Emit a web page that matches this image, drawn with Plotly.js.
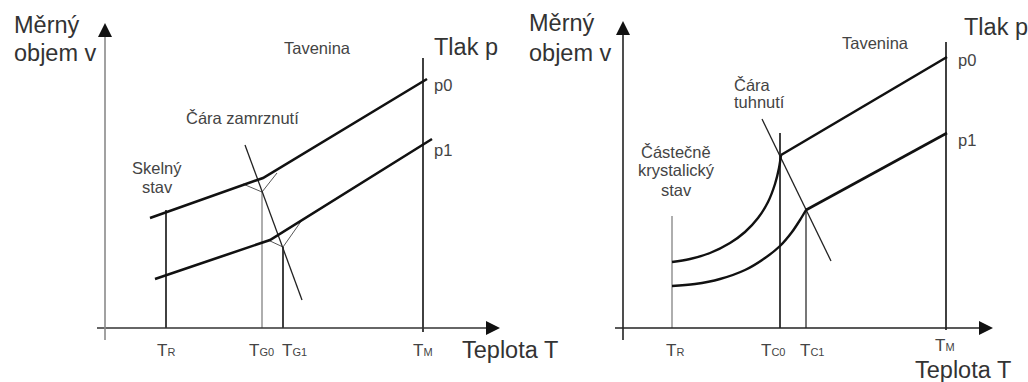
<!DOCTYPE html>
<html>
<head>
<meta charset="utf-8">
<script src="https://cdn.plot.ly/plotly-3.0.1.min.js"></script>
<style>
  html, body { margin: 0; padding: 0; background: #fff; }
  #chart { width: 1028px; height: 382px; }
</style>
</head>
<body>
<div id="chart"></div>
<script>
// Specific volume v against temperature T, two schematic diagrams.
// Both axes use arbitrary units with the origin where the axes cross.

// ---- Amorphous polymer (left) ----
const amTickX = [61, 157, 178, 318];              // T_R, T_G0, T_G1, T_M
const amTickSub = ['R', 'G0', 'G1', 'M'];
const amTickLabelX = [61, 156, 189, 318];
const amDropTop = [118, 137, 81, 270];            // upper end of each temperature marker
const amDropColor = ['#111', '#9a9a9a', '#111', '#111'];
const amP0X = [45, 158, 322];                     // pressure p0: glass branch, melt branch
const amP0Y = [110, 150, 249];
const amP1X = [50, 165, 327];                     // pressure p1
const amP1Y = [49, 88, 189];
const amKnee0X = [138, 157, 172];                 // transition zone at p0
const amKnee0Y = [144, 136, 155];
const amKnee1X = [163, 178, 197];                 // transition zone at p1
const amKnee1Y = [88, 81, 108];
const amFreezeX = [140, 197];                     // freezing line
const amFreezeY = [183, 28];
const amXAxis = [-8, 395];
const amYAxis = [-12, 305];

// ---- Semicrystalline polymer (right) ----
const crTickX = [49, 157, 183, 323];              // T_R, T_C0, T_C1, T_M
const crTickSub = ['R', 'C0', 'C1', 'M'];
const crTickLabelX = [52, 150, 189, 322];
const crTickLabelY = [-22, -22, -22, -17];
const crDropTop = [112, 195, 120, 286];
const crDropColor = ['#9a9a9a', '#111', '#555', '#111'];
const crP0CurveX = [49, 67, 87, 107, 122, 135, 145, 152, 156, 158];
const crP0CurveY = [66, 69, 75, 85, 96, 110, 126, 144, 160, 173];
const crP0MeltX = [158, 324];
const crP0MeltY = [173, 271];
const crP1CurveX = [49, 72, 97, 122, 142, 157, 169, 177, 183];
const crP1CurveY = [42, 44, 49, 58, 70, 82, 96, 108, 118];
const crP1MeltX = [183, 324];
const crP1MeltY = [118, 195];
const crSolidX = [139, 208];                      // solidification line
const crSolidY = [209, 67];
const crXAxis = [-8, 370];
const crYAxis = [-12, 307];

const FONT = 'Liberation Sans, Arial, Helvetica, sans-serif';
const traces = [];
const annotations = [];

function line(xs, ys, ax, color, width, shape) {
  traces.push({
    type: 'scatter', mode: 'lines', x: xs, y: ys,
    xaxis: ax.x, yaxis: ax.y, hoverinfo: 'skip', showlegend: false,
    line: { color: color, width: width, shape: shape || 'linear', smoothing: 1 }
  });
}

function label(txt, x, y, ax, size, color, xanchor) {
  annotations.push({
    text: txt, x: x, y: y, xref: ax.x, yref: ax.y,
    showarrow: false, xanchor: xanchor || 'center', yanchor: 'middle', align: 'left',
    font: { family: FONT, size: size, color: color }
  });
}

// filled arrow tip at the end of an axis (arrow symbols have their point at the marker position)
function arrowTip(x, y, symbol, ax) {
  traces.push({
    type: 'scatter', mode: 'markers', x: [x], y: [y],
    xaxis: ax.x, yaxis: ax.y, hoverinfo: 'skip', showlegend: false, cliponaxis: false,
    marker: { symbol: symbol, size: 14, color: '#111', line: { width: 0 } }
  });
}

function axesCross(xAxis, yAxis, ax, xColor, yColor) {
  line([xAxis[0], xAxis[1] - 8], [0, 0], ax, xColor, 1.6);
  line([0, 0], [yAxis[0], yAxis[1] - 8], ax, yColor, 1.6);
  arrowTip(xAxis[1], 0, 'arrow-right', ax);
  arrowTip(0, yAxis[1], 'arrow-up', ax);
}

function tickMarks(xs, tops, colors, ax) {
  xs.forEach((x, i) => line([x, x], [tops[i], 0], ax, colors[i], 1.6));
}

function tickLabels(xs, ys, subs, ax) {
  xs.forEach((x, i) => label('T<span style="font-size:11px">' + subs[i] + '</span>',
    x, ys[i], ax, 17, '#444'));
}

// ----- left diagram -----
const L = { x: 'x', y: 'y' };
tickMarks(amTickX, amDropTop, amDropColor, L);
line([amTickX[3], amTickX[3]], [0, -4], L, '#111', 1.6);
axesCross(amXAxis, amYAxis, L, '#333', '#8a8a8a');
line(amKnee0X, amKnee0Y, L, '#444', 0.9);
line(amKnee1X, amKnee1Y, L, '#444', 0.9);
line(amFreezeX, amFreezeY, L, '#222', 1.3);
line(amP0X, amP0Y, L, '#111', 2.6);
line(amP1X, amP1Y, L, '#111', 2.6);
tickLabels(amTickLabelX, amTickX.map(() => -22), amTickSub, L);
label('Měrný', -93, 303, L, 23.5, '#333', 'left');
label('objem v', -93, 275, L, 23.5, '#333', 'left');
label('Tavenina', 212, 280, L, 16.5, '#444');
label('Tlak p', 327, 281, L, 23.5, '#333', 'left');
label('p0', 327, 243, L, 16.5, '#444', 'left');
label('p1', 327, 178, L, 16.5, '#444', 'left');
label('Čára zamrznutí', 137, 210, L, 16.5, '#444');
label('Skelný', 52, 160, L, 16.5, '#444');
label('stav', 52, 141, L, 16.5, '#444');
label('Teplota T', 355, -22, L, 23.5, '#333', 'left');

// ----- right diagram -----
const R = { x: 'x2', y: 'y2' };
tickMarks(crTickX, crDropTop, crDropColor, R);
line([crTickX[3], crTickX[3]], [0, -2], R, '#111', 1.6);
axesCross(crXAxis, crYAxis, R, '#222', '#222');
line(crSolidX, crSolidY, R, '#222', 1.3);
line(crP0CurveX, crP0CurveY, R, '#111', 2.4, 'spline');
line(crP0MeltX, crP0MeltY, R, '#111', 2.6);
line(crP1CurveX, crP1CurveY, R, '#111', 2.4, 'spline');
line(crP1MeltX, crP1MeltY, R, '#111', 2.6);
tickLabels(crTickLabelX, crTickLabelY, crTickSub, R);
label('Měrný', -96, 305, R, 23.5, '#333', 'left');
label('objem v', -96, 275, R, 23.5, '#333', 'left');
label('Tavenina', 252, 285, R, 16.5, '#444');
label('Tlak p', 339, 301, R, 23.5, '#333', 'left');
label('p0', 333, 268, R, 16.5, '#444', 'left');
label('p1', 333, 188, R, 16.5, '#444', 'left');
label('Čára', 109, 243, R, 16.5, '#444', 'left');
label('tuhnutí', 109, 226, R, 16.5, '#444', 'left');
label('Částečně', 53, 176, R, 16.5, '#444');
label('krystalický', 53, 158, R, 16.5, '#444');
label('stav', 53, 138, R, 16.5, '#444');
label('Teplota T', 290, -42, R, 23.5, '#333', 'left');

const hidden = { visible: false, fixedrange: true };
const layout = {
  width: 1028, height: 382,
  margin: { l: 0, r: 0, t: 0, b: 0 },
  paper_bgcolor: '#fff', plot_bgcolor: '#fff',
  showlegend: false,
  xaxis: Object.assign({ domain: [0, 0.5], range: [-105, 409], anchor: 'y' }, hidden),
  yaxis: Object.assign({ domain: [0, 1], range: [-54, 328], anchor: 'x' }, hidden),
  xaxis2: Object.assign({ domain: [0.5, 1], range: [-109, 405], anchor: 'y2' }, hidden),
  yaxis2: Object.assign({ domain: [0, 1], range: [-54, 328], anchor: 'x2' }, hidden),
  annotations: annotations
};

Plotly.newPlot('chart', traces, layout, { staticPlot: true, displayModeBar: false });
</script>
</body>
</html>
